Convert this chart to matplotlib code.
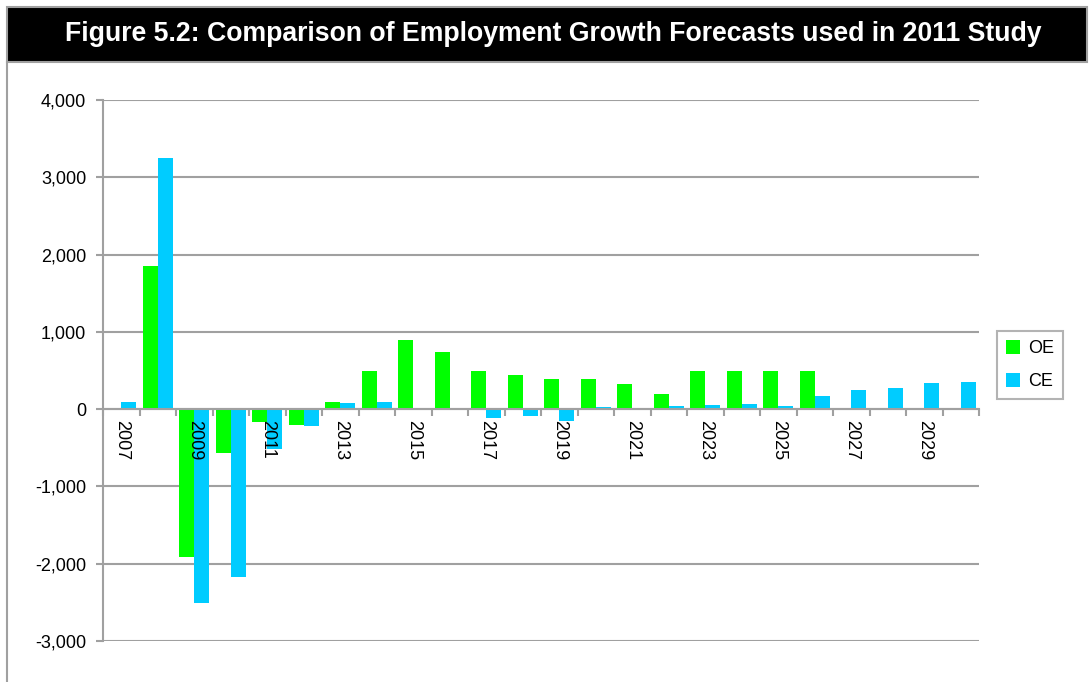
import numpy as np
import matplotlib
matplotlib.use("Agg")
import matplotlib.pyplot as plt
from matplotlib.lines import Line2D
from matplotlib.patches import Rectangle

plt.rcParams['font.family'] = ['Liberation Sans', 'DejaVu Sans']

# data
years = list(range(2007, 2031))
oe = [20, 1850, -1915, -570, -170, -205, 95, 490, 895, 740, 490, 440,
      390, 390, 325, 195, 490, 490, 490, 490, 0, 0, 0, 0]
ce = [95, 3250, -2510, -2175, -515, -220, 80, 90, 15, 0, -110, -95,
      -150, 25, 0, 40, 55, 70, 40, 170, 250, 275, 335, 350]
yticks = [-3000, -2000, -1000, 0, 1000, 2000, 3000, 4000]

grey = '#a0a0a0'
fig = plt.figure(figsize=(10.92, 6.82), dpi=100)

# frame and black title banner
W, H = 1092, 682
fig.add_artist(Rectangle((7 / W, 1 - 62 / H), 1080 / W, 55 / H, transform=fig.transFigure,
                         facecolor='black', edgecolor=grey, linewidth=1.5))
fig.add_artist(Line2D([7 / W, 7 / W], [0, 1 - 62 / H], transform=fig.transFigure,
                      color=grey, linewidth=1.5))
fig.text(553 / W, 1 - 34 / H, 'Figure 5.2: Comparison of Employment Growth Forecasts used in 2011 Study',
         color='white', fontsize=19.2, fontweight='bold', ha='center', va='center')

ax = fig.add_axes([103 / W, 1 - 641 / H, 876 / W, 541 / H])
x = np.arange(len(years))
w = 0.41
ax.bar(x - w / 2, oe, w, color='#00ff00', label='OE', zorder=2)
ax.bar(x + w / 2, ce, w, color='#00ccff', label='CE', zorder=2)

ax.set_xlim(-0.5, len(years) - 0.5)
ax.set_ylim(-3000, 4000)
ax.set_yticks(yticks)
ax.set_yticklabels([f'{v:,}' for v in yticks], fontsize=13)
ax.grid(axis='y', color=grey, linewidth=1.5)
ax.set_axisbelow(True)

for s in ['top', 'right']:
    ax.spines[s].set_visible(False)
ax.spines['left'].set_color(grey)
ax.spines['left'].set_linewidth(1.5)
ax.spines['bottom'].set_position(('data', 0))
ax.spines['bottom'].set_color(grey)
ax.spines['bottom'].set_linewidth(1.5)
ax.spines['bottom'].set_zorder(2.5)

# boundary ticks on the zero line, year labels drawn above the bars
ax.set_xticks(np.arange(-0.5, len(years), 1.0))
ax.set_xticklabels([])
ax.tick_params(axis='x', which='major', length=5, width=1.5, color=grey)
ax.tick_params(axis='y', length=5, width=1.5, color=grey, pad=7)
for i, yr in enumerate(years):
    if i % 2 == 0:
        ax.annotate(str(yr), (i, 0), xytext=(0, -8), textcoords='offset points',
                    rotation=-90, fontsize=13, ha='center', va='top', zorder=5,
                    annotation_clip=False)

leg = ax.legend(loc='center left', bbox_to_anchor=(1.0205, 0.51), fontsize=13,
                frameon=True, fancybox=False, edgecolor=grey, handlelength=0.8,
                handleheight=0.8, handletextpad=0.4, borderpad=0.5, labelspacing=0.85,
                borderaxespad=0)
leg.get_frame().set_linewidth(1.5)

fig.savefig('out.png', dpi=100)
